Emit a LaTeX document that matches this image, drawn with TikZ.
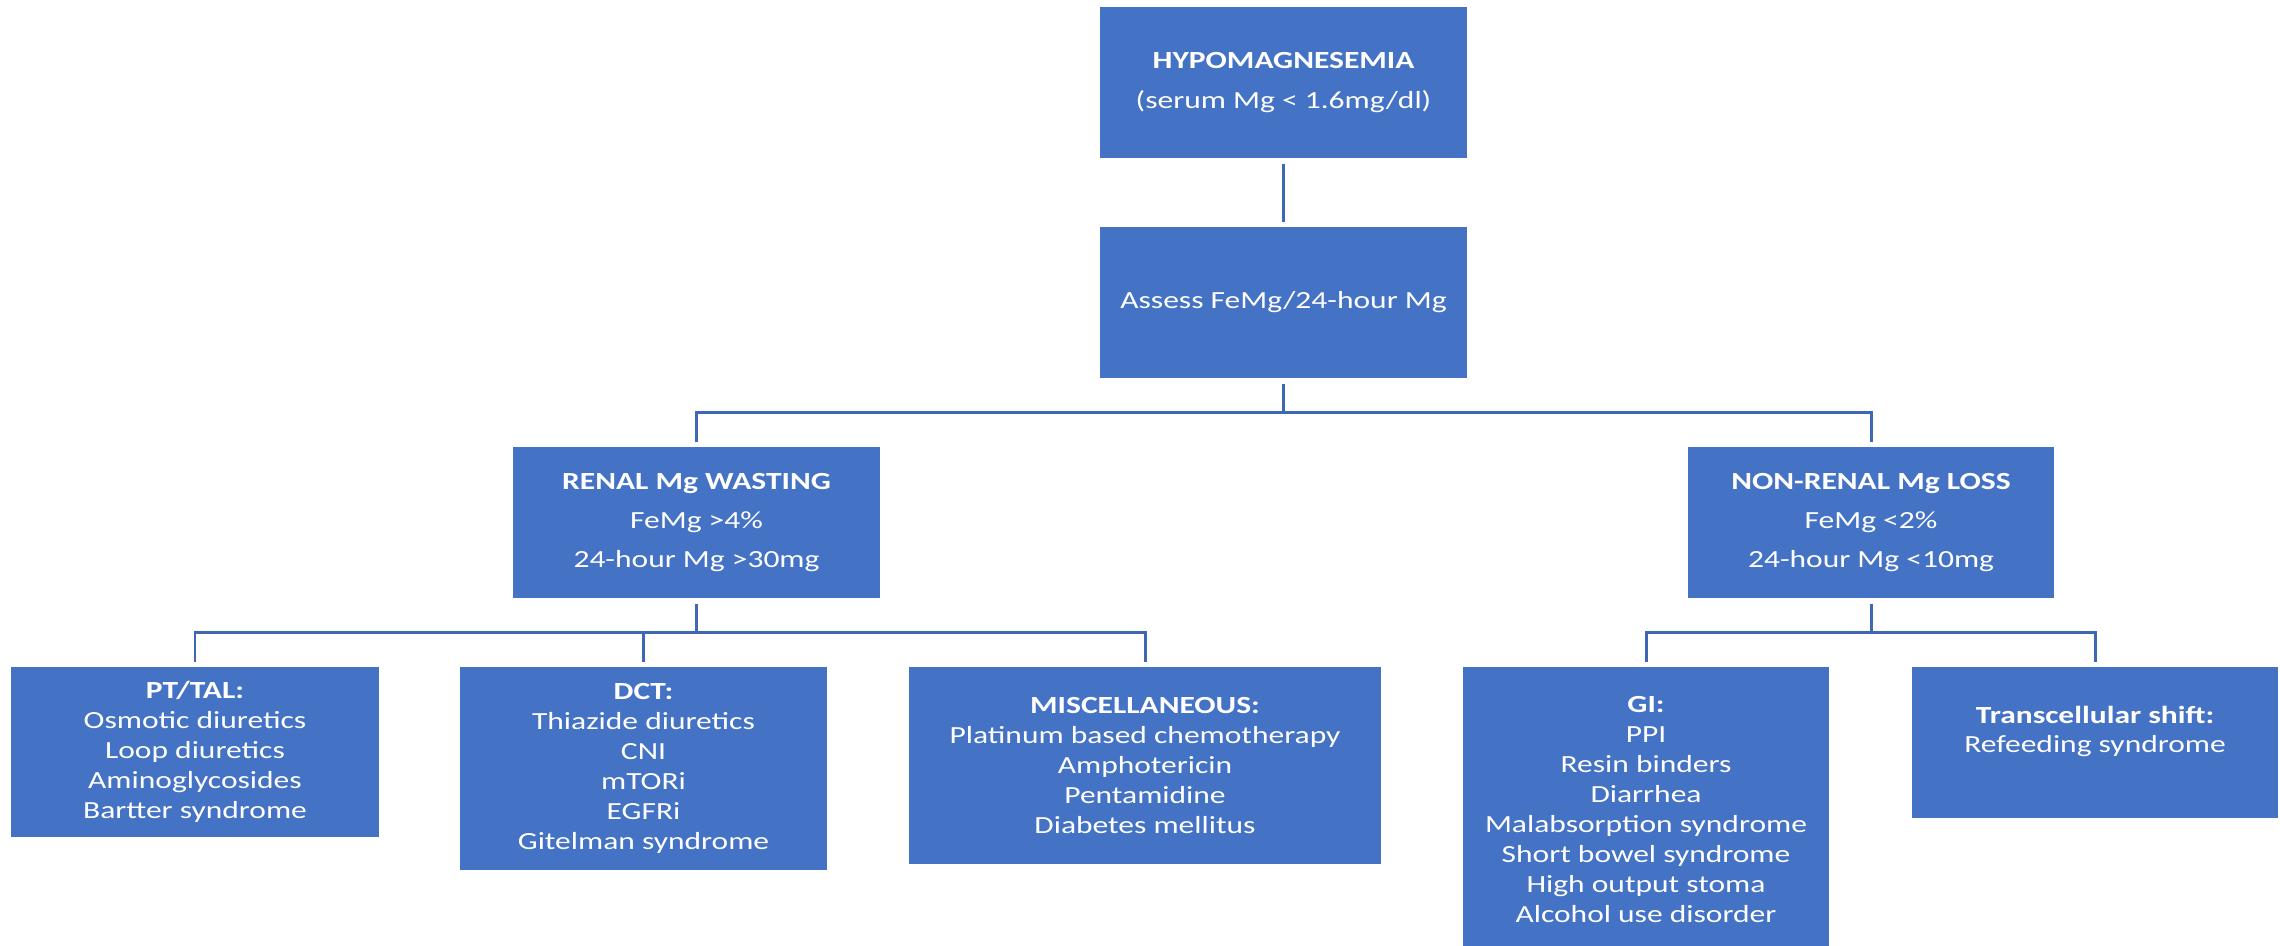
\documentclass[tikz,border=0pt]{standalone}
\usepackage{fontspec}
\setmainfont{Carlito}[FakeStretch=1.28]
\usetikzlibrary{calc}
\definecolor{boxBlue}{RGB}{68,114,196}
\definecolor{lineBlue}{RGB}{62,104,180}

\begin{document}
\begin{tikzpicture}[x=0.01cm,y=-0.01cm,
  box/.style={fill=boxBlue,text=white,align=center,inner sep=2pt,minimum width=3.67cm,minimum height=1.51cm,font=\fontsize{7}{8.5}\selectfont},
  stem/.style={draw=lineBlue,line width=0.85pt,shorten <=1.4pt},
  drop/.style={draw=lineBlue,line width=0.85pt,shorten >=1.2pt}]
\useasboundingbox (0,0) rectangle (2280,946);

\node[box] (hypo) at (1283.5,82.5) {\textbf{HYPOMAGNESEMIA}\\[2.9pt](serum Mg < 1.6mg/dl)};
\node[box] (assess) at (1283.5,302.5) {Assess FeMg/24-hour Mg};
\node[box] (renal) at (696.5,522.5) {\textbf{RENAL Mg WASTING}\\[2.6pt]FeMg >4\%\\[2.6pt]24-hour Mg >30mg};
\node[box,minimum width=3.66cm] (nonrenal) at (1871,522.5) {\textbf{NON-RENAL Mg LOSS}\\[2.6pt]FeMg <2\%\\[2.6pt]24-hour Mg <10mg};

\node[box,minimum width=3.68cm,minimum height=1.70cm] (pttal) at (195,752) {\textbf{PT/TAL:}\\Osmotic diuretics\\Loop diuretics\\Aminoglycosides\\Bartter syndrome};
\node[box,minimum height=2.03cm] (dct) at (643.5,768.5) {\textbf{DCT:}\\Thiazide diuretics\\CNI\\mTORi\\EGFRi\\Gitelman syndrome};
\node[box,minimum width=4.72cm,minimum height=1.97cm] (misc) at (1145,765.5) {\textbf{MISCELLANEOUS:}\\Platinum based chemotherapy\\Amphotericin\\Pentamidine\\Diabetes mellitus};
\node[box,minimum width=3.66cm,minimum height=2.85cm] (gi) at (1646,809.5) {\textbf{GI:}\\PPI\\Resin binders\\Diarrhea\\Malabsorption syndrome\\Short bowel syndrome\\High output stoma\\Alcohol use disorder};
\node[box,minimum width=3.66cm] (trans) at (2095,742.5) {\textbf{Transcellular shift:}\\Refeeding syndrome\\[-1pt]\mbox{}};

\coordinate (busA) at (1283.5,412.5);
\coordinate (busB) at (696.5,632);
\coordinate (busC) at (1871,632);

\draw[stem,shorten >=1.2pt] (hypo) -- (assess);
\draw[stem] (assess) -- (busA);
\draw[drop] (busA) -| (renal);
\draw[drop] (busA) -| (nonrenal);
\draw[stem] (renal) -- (busB);
\foreach \n in {pttal,dct,misc} \draw[drop] (busB) -| (\n);
\draw[stem] (nonrenal) -- (busC);
\foreach \n in {gi,trans} \draw[drop] (busC) -| (\n);
\end{tikzpicture}
\end{document}
